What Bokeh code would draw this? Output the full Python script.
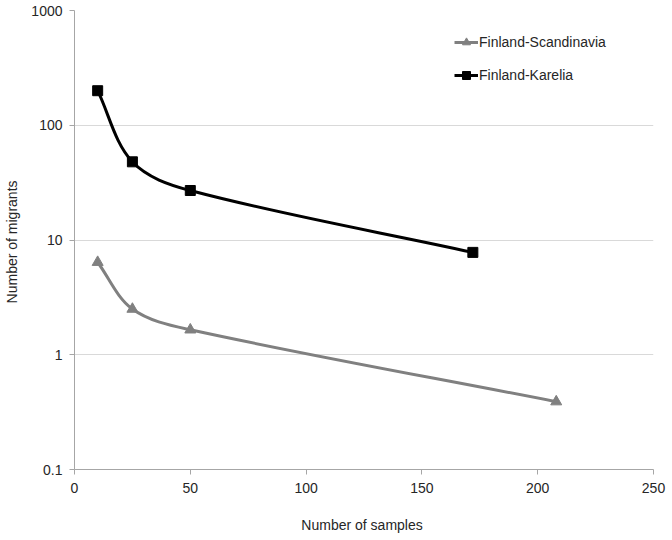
import numpy as np
from bokeh.plotting import figure
from bokeh.models import FixedTicker, Legend, LegendItem, ColumnDataSource
from bokeh.embed import file_html
from bokeh.resources import INLINE

# ---- data ----
scand_x = [10, 25, 50, 208]
scand_y = [6.4, 2.5, 1.65, 0.39]
karel_x = [10, 25, 50, 172]
karel_y = [200, 48, 27, 7.8]
x_ticks = [0, 50, 100, 150, 200, 250]
y_ticks = [0.1, 1, 10, 100, 1000]
y_tick_labels = ["0.1", "1", "10", "100", "1000"]
names = ["Finland-Scandinavia", "Finland-Karelia"]

FONT = "Liberation Sans"
TXT = "#262626"
AX = "#a6a6a6"
PX_PER_X = 2.316      # approx screen pixels per x unit (for smoothing only)
PX_PER_DEC = 114.25   # approx screen pixels per decade (for smoothing only)


def smooth_segments(xs, ys):
    """Bezier control points for a 'smoothed line' rendering, computed in
    screen-like space with chord-length-scaled tangents."""
    sx = np.array(xs, float) * PX_PER_X
    sy = np.log10(np.array(ys, float)) * PX_PER_DEC
    P = np.stack([sx, sy], axis=1)
    n = len(P)
    L = np.linalg.norm(P[1:] - P[:-1], axis=1)
    T = np.zeros_like(P)
    for i in range(n):
        a = P[max(i - 1, 0)]
        b = P[min(i + 1, n - 1)]
        d = b - a
        T[i] = d / np.linalg.norm(d)
    out = dict(x0=[], y0=[], x1=[], y1=[], cx0=[], cy0=[], cx1=[], cy1=[])

    def back(pt):
        return pt[0] / PX_PER_X, 10 ** (pt[1] / PX_PER_DEC)

    for i in range(n - 1):
        c0 = P[i] + T[i] * L[i] / 3.0
        c1 = P[i + 1] - T[i + 1] * L[i] / 3.0
        for key, pt in (("0", P[i]), ("1", P[i + 1])):
            bx, by = back(pt)
            out["x" + key].append(bx); out["y" + key].append(by)
        for key, pt in (("0", c0), ("1", c1)):
            bx, by = back(pt)
            out["cx" + key].append(bx); out["cy" + key].append(by)
    return ColumnDataSource(out)


p = figure(width=668, height=535, x_range=(0, 250), y_range=(0.1, 1000),
           y_axis_type="log", output_backend="svg", toolbar_location=None,
           min_border_left=74, min_border_right=15, min_border_top=10,
           min_border_bottom=66)
p.outline_line_color = None
p.background_fill_color = "white"

p.xgrid.grid_line_color = None
p.ygrid.grid_line_color = "#d9d9d9"
p.ygrid.grid_line_width = 1

p.xaxis.ticker = FixedTicker(ticks=x_ticks)
p.yaxis.ticker = FixedTicker(ticks=y_ticks)
p.yaxis.major_label_overrides = {t: l for t, l in zip(y_ticks, y_tick_labels)}

for ax in (p.xaxis[0], p.yaxis[0]):
    ax.axis_line_color = AX
    ax.major_tick_line_color = AX
    ax.minor_tick_line_color = None
    ax.major_tick_in = 0
    ax.major_tick_out = 5
    ax.major_label_text_font = FONT
    ax.major_label_text_font_size = "14px"
    ax.major_label_text_color = TXT
    ax.axis_label_text_font = FONT
    ax.axis_label_text_font_size = "14px"
    ax.axis_label_text_font_style = "normal"
    ax.axis_label_text_color = TXT

p.xaxis.axis_label = "Number  of samples"
p.yaxis.axis_label = "Number  of migrants"
p.xaxis.major_label_standoff = 8
p.xaxis.axis_label_standoff = 21
p.yaxis.major_label_standoff = 7
p.yaxis.axis_label_standoff = 8

# Finland-Scandinavia
s_src = smooth_segments(scand_x, scand_y)
s_line = p.bezier(x0="x0", y0="y0", x1="x1", y1="y1", cx0="cx0", cy0="cy0",
                  cx1="cx1", cy1="cy1", source=s_src, line_color="#808080",
                  line_width=3)
s_pts = p.scatter(scand_x, scand_y, marker="triangle", size=11,
                  fill_color="#808080", line_color="#808080")

# Finland-Karelia
k_src = smooth_segments(karel_x, karel_y)
k_line = p.bezier(x0="x0", y0="y0", x1="x1", y1="y1", cx0="cx0", cy0="cy0",
                  cx1="cx1", cy1="cy1", source=k_src, line_color="black",
                  line_width=3)
k_pts = p.scatter(karel_x, karel_y, marker="square", size=10,
                  fill_color="black", line_color="black")

legend = Legend(items=[LegendItem(label=names[0], renderers=[s_line, s_pts]),
                       LegendItem(label=names[1], renderers=[k_line, k_pts])],
                location=(380, 384), orientation="vertical")
legend.border_line_color = None
legend.background_fill_alpha = 0
legend.label_text_font = FONT
legend.label_text_font_size = "14px"
legend.label_text_color = TXT
legend.glyph_width = 24
legend.glyph_height = 20
legend.label_height = 20
legend.label_standoff = 1
legend.spacing = 13
legend.padding = 5
legend.margin = 0
p.add_layout(legend, "center")

open("out.html", "w").write(file_html(p, INLINE))
